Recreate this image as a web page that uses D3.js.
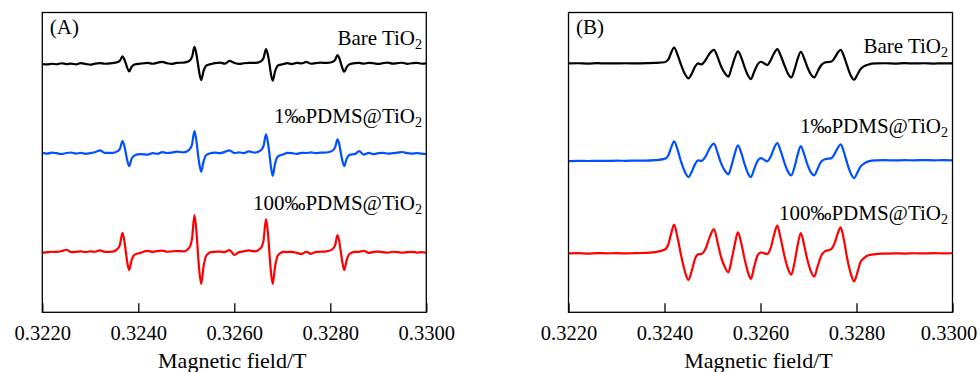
<!DOCTYPE html>
<html>
<head>
<meta charset="utf-8">
<script src="https://cdn.jsdelivr.net/npm/d3@7"></script>
<style>
  html, body { margin: 0; padding: 0; background: #fff; }
  svg { display: block; font-family: "Liberation Serif", "DejaVu Serif", serif; }
</style>
</head>
<body>
<svg id="chart" width="980" height="372"></svg>
<script>
// EPR spectra, two panels, three samples each (stacked with offsets)

const fieldTicks = [0.3220, 0.3240, 0.3260, 0.3280, 0.3300]
const sampleNames = ['Bare TiO', '1‰PDMS@TiO', '100‰PDMS@TiO']
const sampleColors = ['#000000', '#0050ff', '#ff0000']

// panel A: magnetic field grid (T)
const fieldA = [
  0.3220, 0.3221, 0.3222, 0.3223, 0.3224, 0.3225, 0.3226, 0.3227, 0.3228, 0.3229, 0.3230, 0.3231, 0.3232, 0.3233,
  0.32346, 0.32356, 0.32362, 0.32367, 0.32371, 0.32374, 0.32377, 0.32381, 0.32386, 0.32392, 0.32404,
  0.3242, 0.3243, 0.3244, 0.3245, 0.3246, 0.3247, 0.3248,
  0.32494, 0.32506, 0.32512, 0.32517, 0.32521, 0.32524, 0.32527, 0.32531, 0.32536, 0.32542, 0.32554,
  0.3256, 0.3257, 0.3258, 0.3259, 0.3260, 0.3261, 0.3262, 0.3263,
  0.32643, 0.32655, 0.32661, 0.32666, 0.32670, 0.32673, 0.32676, 0.32680, 0.32685, 0.32691, 0.32703,
  0.3271, 0.3272, 0.3273, 0.3274, 0.3275, 0.3276, 0.3277, 0.3278,
  0.32792, 0.32804, 0.32810, 0.32815, 0.32819, 0.32822, 0.32825, 0.32829, 0.32834, 0.32840, 0.32852,
  0.3286, 0.3287, 0.3288, 0.3289, 0.3290, 0.3291, 0.3292, 0.3293, 0.3294, 0.3295, 0.3296, 0.3297, 0.3298, 0.3299, 0.3300
]

// panel A intensities (a.u.), relative to each trace's own baseline
const bareA = [
  -0.5, -1, -0.3, -0.8, 0.2, -0.6, -0.2, -0.9, 0.3, -0.4, -1.2, -0.1, 0.4, -0.3,
  0.4, 1.2, 3, 7, 4, 0, -4.5, -8, -3.5, -1, -0.2,
  0.5, -0.3, 0.8, 1.6, 0.2, -0.5, 0.6,
  0.8, 2.5, 6.5, 16.7, 9.5, 0.5, -9, -16.6, -7.5, -2, -0.3,
  0.3, 0.8, -0.2, 2.5, 0.6, -0.4, 0.2, 0.5,
  0.5, 2, 5.5, 14.4, 8.5, 0.5, -9.5, -17.3, -7.8, -2, -0.5,
  0.3, -0.6, 0.5, 0.1, 1.5, -0.3, 0.4, 0.8,
  0.5, 1.5, 3.5, 8.4, 5, 0.3, -4.5, -8.3, -3.8, -0.8, 0.3,
  0.5, -0.3, 0.6, 0.2, -0.5, 0.4, 0.9, -0.2, 0.3, 0.7, -0.4, 0.2, 0.6, -0.3, 0.1
]
const pdms1A = [
  0.5, -0.3, 0.8, 0.2, -0.6, 0.4, 0.9, -0.2, 0.6, -0.4, 0.3, 1.2, 3.0, 0.5,
  0.6, 2, 5, 12.3, 7.5, 0.5, -7, -12.7, -5.5, -2, -0.8,
  -1.2, 0.3, -0.5, 1.2, 0.4, 0.8, 1.8,
  1, 3.5, 9, 22.3, 13, 0.5, -10, -18.4, -8, -1.5, 0.5,
  0.8, 0.2, 1.5, 3, 0.4, 1, 0.3, 2,
  0.8, 3, 7.5, 19, 11, 0.5, -12, -22.4, -10, -3, -0.8,
  0.5, 0.2, -0.5, 0.6, 0.4, 1, 0.3, 0.7,
  0.9, 2.5, 6, 14, 8.5, 0.3, -7, -12.7, -5.5, -1.5, -0.5,
  2.2, -1.2, 0.5, -0.8, 0.3, 0.6, -0.3, 0.2, 0.8, 1.4, 0.2, -0.2, 0.4, -0.3, -0.6
]
const pdms100A = [
  -0.5, 0.2, 0.6, 0.4, 1.2, 2.6, 0.3, 0.5, 0.9, 0.2, 1.0, 0.6, 2.0, 0.5,
  0.8, 3, 8, 19.6, 11.5, 0.5, -10, -17.7, -8, -2.5, -0.5,
  1.5, 0.5, 1.2, 1.8, 0.6, 1.0, 1.3,
  1, 4.5, 14, 37.3, 22, 1, -18, -31.7, -14, -3, 0.5,
  0.5, 0.8, 0.3, 2.3, -2.5, 0.2, 1.0, 2.0,
  1, 4, 12, 33.3, 20, 1, -18, -31.7, -14, -3, 0.5,
  0.3, 0.5, -0.5, -1.8, 0.6, -1.5, 0.4, 0.6,
  1, 3, 7, 17.3, 10, 0.3, -9.5, -17.7, -8, -1.5, 0.5,
  0.5, 1.6, -0.5, 0.4, 0.8, 0.2, -0.3, 0.6, 0.3, -0.4, 0.2, 0.5, -0.2, 0.3, -0.4
]

// panel B: magnetic field grid (T)
const fieldB = [
  0.3220, 0.3222, 0.3224, 0.3226, 0.3228, 0.3230, 0.3232, 0.3234, 0.3236, 0.3238,
  0.32400, 0.32408, 0.32414, 0.32420, 0.32427, 0.32435, 0.32443, 0.32450, 0.32457, 0.32464,
  0.32470, 0.32477, 0.32485, 0.32494, 0.32503, 0.32511, 0.32518, 0.32526, 0.32533, 0.32540,
  0.32546, 0.32553, 0.32560, 0.32567, 0.32574, 0.32580, 0.32587, 0.32594, 0.32601, 0.32608,
  0.32614, 0.32621, 0.32628, 0.32635, 0.32642, 0.32650, 0.32657, 0.32664, 0.32671, 0.32677,
  0.32684, 0.32691, 0.32698, 0.32705, 0.32712, 0.32719, 0.32726, 0.32734, 0.32741, 0.32748,
  0.32755, 0.32761, 0.32767, 0.32774, 0.32781, 0.32788, 0.32795, 0.32802, 0.32808, 0.32815,
  0.32825, 0.32840,
  0.3286, 0.3288, 0.3290, 0.3292, 0.3294, 0.3296, 0.3298, 0.3300
]
const bareB = [
  0, 0.2, -0.1, 0.3, 0, 0.1, 0.2, 0, 0.3, 0.6,
  1.2, 4, 11, 16, 9, -2, -11, -15, -10, -3,
  0, -1, 3, 10, 13.7, 6, -3, -10, -13.3, -4,
  5, 12, 6, -4, -12, -15.6, -8, -1, 1.7, 0,
  -1.6, 3, 10, 14.4, 8, -2, -10, -14, -6, 4,
  11.7, 5, -4, -11, -14, -8, -2, 1, 1.5, 2,
  6, 11, 13.7, 7, -3, -12, -16.3, -11, -6, -3,
  -1, 0,
  0.2, -0.1, 0.3, 0, 0.2, -0.1, 0.1, 0
]
const pdms1B = [
  -0.7, -0.5, -0.6, -0.4, -0.5, -0.3, -0.4, -0.2, -0.3, 0.2,
  1.5, 5, 13, 19, 11, -2, -12, -16.7, -11, -3.5,
  0, -0.5, 3.5, 12, 16.7, 7, -3, -10.5, -14, -4.5,
  6, 15, 7.5, -4, -13, -16.7, -8.5, -0.5, 2.3, 0.5,
  -1, 3.5, 12, 17.3, 9.5, -2.5, -11, -15, -6.5, 5,
  14.3, 6, -4.5, -12, -15, -8.5, -1.5, 1.2, 1.7, 2.3,
  7, 12.5, 16, 8, -3.5, -13, -17.7, -12, -6.5, -3.5,
  -1, 0,
  0.2, 0, 0.2, 0.1, 0.3, 0.1, 0.2, 0
]
const pdms100B = [
  0, 0.2, -0.2, 0.3, 0, 0.2, -0.1, 0.3, 0.4, 1.2,
  3.5, 9, 20, 28.7, 16, -3, -19, -26.6, -17, -5,
  -1, -0.7, 4, 16, 24.3, 10, -4, -14, -19, -6,
  8, 21, 10, -6, -19, -25.6, -13, -2, 1, 0,
  -0.7, 5, 18, 27.7, 15, -3, -15, -21.3, -9, 7,
  20.3, 8, -7, -18, -23.3, -13, -3, 2, 3, 4.5,
  11, 20, 26, 13, -6, -20, -28, -19, -9, -5,
  -2, -0.7,
  -0.3, 0, -0.2, 0.1, -0.1, 0.2, 0, 0.1
]

// vertical offsets used to stack the traces
const offsetsA = [249, 159, 60]
const offsetsB = [249, 152, 59]

const svg = d3.select('#chart')

const panels = [
  {
    label: '(A)', left: 42.3, right: 426.3, field: fieldA,
    series: [bareA, pdms1A, pdms100A], offsets: offsetsA,
    legendX: 422, legendY: [45, 123, 210]
  },
  {
    label: '(B)', left: 568.5, right: 952.5, field: fieldB,
    series: [bareB, pdms1B, pdms100B], offsets: offsetsB,
    legendX: 948, legendY: [53, 133, 220]
  }
]

const plotTop = 12.5
const plotBottom = 312.3

panels.forEach((p, pi) => {
  const g = svg.append('g')

  const x = d3.scaleLinear().domain([0.3220, 0.3300]).range([p.left, p.right])
  const y = d3.scaleLinear().domain([0, 300]).range([plotBottom, plotTop])

  // traces
  const line = d3.line()
    .x(d => x(d[0]))
    .y(d => y(d[1]))
    .curve(d3.curveMonotoneX)

  p.series.forEach((vals, i) => {
    const pts = p.field.map((f, k) => [f, vals[k] + p.offsets[i]])
    g.append('path')
      .datum(pts)
      .attr('fill', 'none')
      .attr('stroke', sampleColors[i])
      .attr('stroke-width', 2.2)
      .attr('stroke-linejoin', 'round')
      .attr('d', line)
  })

  // x axis, ticks pointing inward
  const axis = g.append('g')
    .attr('transform', `translate(0,${plotBottom})`)
    .call(d3.axisBottom(x)
      .tickValues(fieldTicks)
      .tickFormat(d3.format('.4f'))
      .tickSize(-9)
      .tickPadding(13.5))
  axis.select('.domain').remove()
  axis.selectAll('line').attr('stroke', '#000').attr('stroke-width', 1.3)
  axis.selectAll('text')
    .attr('fill', '#000')
    .style('font-family', '"Liberation Serif", serif')
    .style('font-size', '20.5px')
  // keep the last label of the right panel inside the page
  if (pi === 1) {
    axis.selectAll('text').filter(d => d === 0.3300).attr('dx', -4)
  }

  // frame
  g.append('rect')
    .attr('x', p.left)
    .attr('y', plotTop)
    .attr('width', p.right - p.left)
    .attr('height', plotBottom - plotTop)
    .attr('fill', 'none')
    .attr('stroke', '#000')
    .attr('stroke-width', 1.3)

  // axis title
  g.append('text')
    .attr('x', (p.left + p.right) / 2 - 2)
    .attr('y', 368)
    .attr('text-anchor', 'middle')
    .style('font-size', '22px')
    .text('Magnetic field/T')

  // panel label
  g.append('text')
    .attr('x', p.left + 7.5)
    .attr('y', 33.5)
    .style('font-size', '21px')
    .text(p.label)

  // sample names with subscript 2
  sampleNames.forEach((name, i) => {
    const t = g.append('text')
      .attr('x', p.legendX)
      .attr('y', p.legendY[i])
      .attr('text-anchor', 'end')
      .style('font-size', '21px')
      .attr('fill', '#000')
    t.append('tspan').text(name)
    t.append('tspan')
      .attr('dy', 4)
      .style('font-size', '14px')
      .text('2')
  })
})
</script>
</body>
</html>
